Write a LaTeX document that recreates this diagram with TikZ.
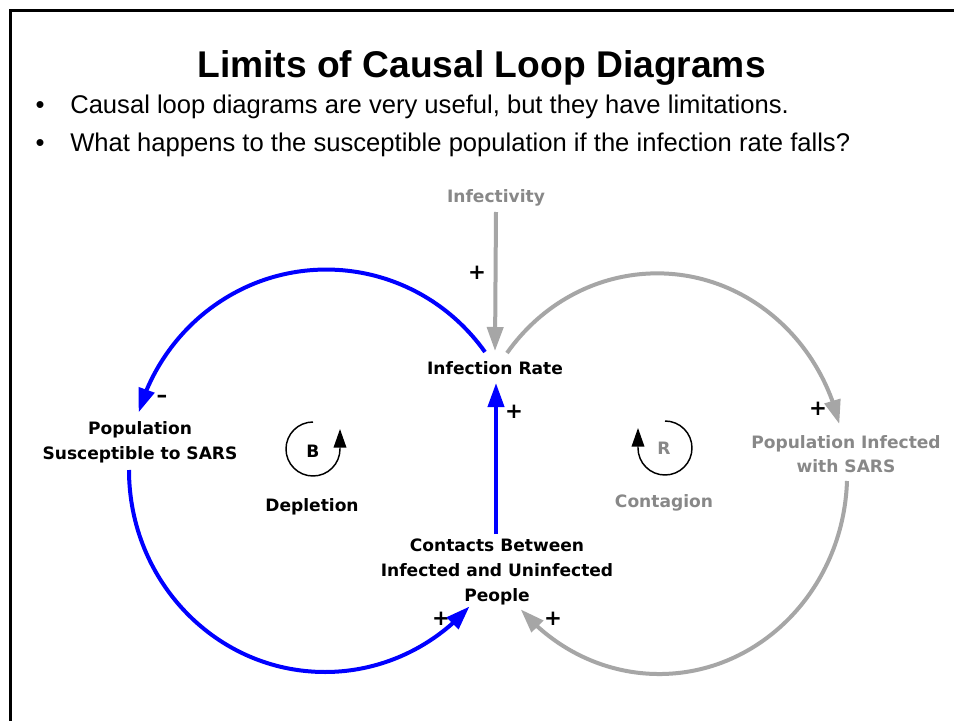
\documentclass[tikz,border=0pt]{standalone}
\usepackage{fontspec}
\setmainfont{Liberation Sans}
\newfontfamily\dfont{DejaVu Sans}
\usetikzlibrary{arrows.meta,bending,calc}
\definecolor{loopblue}{RGB}{0,0,255}
\definecolor{linkgray}{RGB}{166,166,166}
\definecolor{textgray}{RGB}{136,136,136}
\begin{document}
\begin{tikzpicture}[x=0.75pt,y=0.75pt,
  lbl/.style={font=\dfont\bfseries\fontsize{12.8}{18.5}\selectfont, align=center, inner sep=0pt},
  glbl/.style={lbl, text=textgray},
  sgn/.style={font=\dfont\bfseries\fontsize{16}{18}\selectfont, inner sep=0pt},
  link/.style={line width=3pt, -{Triangle[length=18pt,width=12pt,flex]}},
  blink/.style={link, draw=loopblue},
  glink/.style={link, draw=linkgray},
  loopline/.style={line width=1.1pt, -{Triangle[length=14pt,width=9.5pt]}},
  bul/.style={font=\fontsize{19.2}{23}\selectfont, inner sep=0pt}]
\clip (0,0) rectangle (954,-721);
\fill[white] (0,0) rectangle (954,-721);

% slide frame
\draw[line width=2.25pt] (10.5,-800) -- (10.5,-10.5) -- (1000,-10.5);

% heading and bullet points
\node[anchor=base, inner sep=0pt] (title) at (481.5,-77)
  {\fontsize{27.9}{33}\selectfont\bfseries Limits of Causal Loop Diagrams};
\node[bul, anchor=base] (d1) at (40,-113) {•};
\node[bul, anchor=base west] (b1) at (70,-113)
  {Causal loop diagrams are very useful, but they have limitations.};
\node[bul, anchor=base] (d2) at (40,-151) {•};
\node[bul, anchor=base west] (b2) at (70,-151)
  {What happens to the susceptible population if the infection rate falls?};

% variables
\node[glbl] (inf)  at (496,-198) {Infectivity};
\node[lbl]  (ir)   at (495,-368) {Infection Rate};
\node[lbl]  (pss)  at (140,-442) {Population\\Susceptible to SARS};
\node[glbl] (pis)  at (846,-454) {Population Infected\\with SARS};
\node[lbl]  (cont) at (497,-572) {Contacts Between\\Infected and Uninfected\\People};

% loop markers
\node[lbl]  (bsym) at (313,-451) {B};
\node[lbl]  (dep)  at (312,-507) {Depletion};
\node[glbl] (rsym) at (664,-448) {R};
\node[glbl] (con)  at (664,-503) {Contagion};

% polarities
\node[sgn] (s1) at (477,-273) {+};
\node[sgn] (s2) at (514,-412) {+};
\node[sgn] (s3) at (818,-409) {+};
\node[sgn] (s4) at (441,-619) {+};
\node[sgn] (s5) at (553,-619) {+};
\node[sgn] (s6) at (162,-399) {–};

% links
\draw[glink] ($(inf)+(0,-14)$) -- ($(ir)+(0,17)$);
\draw[blink] ($(cont)+(-1,38)$) -- ($(ir)+(1,-15)$);
\draw[blink] ($(ir)+(-10,16)$)
  arc[start angle=36, end angle=163.4, x radius=196, y radius=200];
\draw[blink] ($(pss)+(-11,-28)$)
  arc[start angle=180, end angle=317.5, x radius=196, y radius=202];
\draw[glink] ($(ir)+(12,15)$)
  arc[start angle=143, end angle=14.3, x radius=188, y radius=200];
\draw[glink] ($(pis)+(1,-27)$)
  arc[start angle=-2, end angle=-137.4, x radius=188, y radius=200];

% loop direction arrows
\draw[loopline] ($(bsym)+(0,29)$) arc[start angle=90, end angle=360, radius=27] -- ++(0,20);
\draw[loopline] ($(rsym)+(1,27)$) arc[start angle=90, end angle=-180, radius=27] -- ++(0,20);
\end{tikzpicture}
\end{document}
